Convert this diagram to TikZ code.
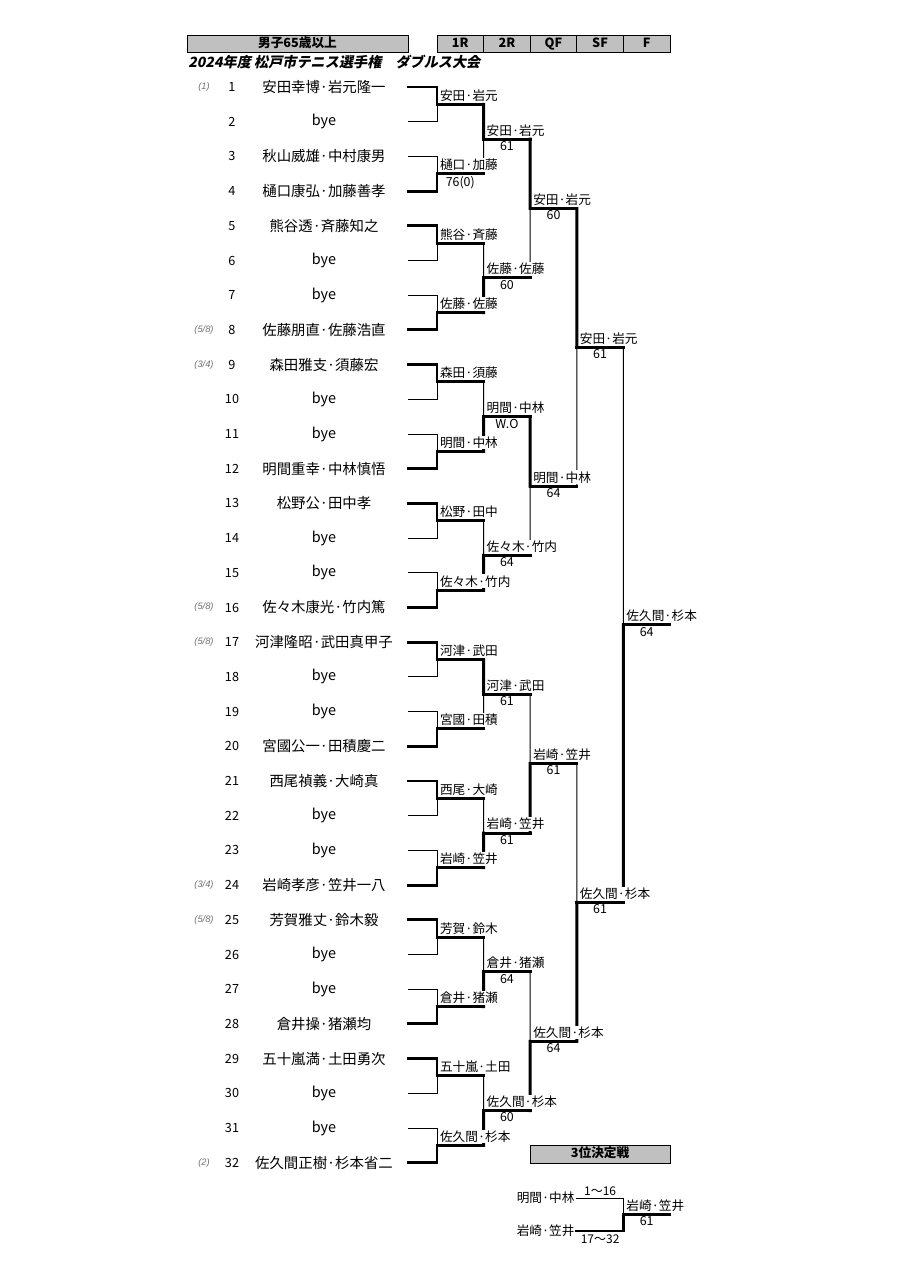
\documentclass[tikz,border=0pt]{standalone}
\usepackage{fontspec}
\setmainfont{Noto Sans CJK JP}
\newfontfamily\titlefont{Noto Sans CJK JP}[FakeSlant=0.2]
\newfontfamily\seedfont{Liberation Sans}
\usetikzlibrary{positioning,calc}

\definecolor{boxgray}{HTML}{C0C0C0}
\definecolor{seedgray}{HTML}{707070}

\pgfdeclarelayer{fg}
\pgfsetlayers{main,fg}

\tikzset{
  won/.style={line width=2.2pt, line cap=rect},
  lost/.style={line width=0.75pt, line cap=rect},
  winlbl/.style={anchor=south west, inner sep=0.8pt, xshift=1.3pt, yshift=1.2pt, fill=white, font=\fontsize{9.5}{10}\selectfont},
  scorelbl/.style={anchor=north, inner sep=1.5pt, font=\fontsize{9.3}{10}\selectfont},
  hdrbox/.style={draw, fill=boxgray, line width=0.6pt, minimum height=12.75pt, inner sep=0pt, outer sep=0pt,
    text height=7pt, text depth=1.5pt, font=\bfseries\fontsize{9.5}{10}\selectfont},
  player/.style={inner sep=0pt, font=\fontsize{10.8}{12}\selectfont},
  num/.style={inner sep=0pt, font=\fontsize{9.5}{10}\selectfont},
  seed/.style={inner sep=0pt, text=seedgray, font=\seedfont\itshape\fontsize{7}{8}\selectfont},
}

% one match: name, top end, bottom end, top style, bottom style, winner, score
\newcommand{\bmatch}[7]{%
  \coordinate (#1) at ($(#2)!0.5!(#3)$);
  \draw[#4] (#2) -- (#1);
  \draw[#5] (#3) -- (#1);
  \draw[won] (#1) -- ++(46.6,0) coordinate (#1e);
  \begin{pgfonlayer}{fg}
    \node[winlbl] (#1l) at (#1) {#6};
    \if\relax\detokenize{#7}\relax\else
      \node[scorelbl] (#1s) at ($(#1)!0.5!(#1e)$) {#7};
    \fi
  \end{pgfonlayer}
}

\begin{document}
\begin{tikzpicture}[x=0.75pt, y=-0.75pt]
  \useasboundingbox (0,0) rectangle (905,1280);

  % header
  \node[hdrbox, minimum width=165.75pt] (cat) at (297.5,43.5) {男子65歳以上};
  \node[hdrbox, minimum width=34.95pt] (h1) at (460.3,43.5) {1R};
  \node[hdrbox, minimum width=34.95pt, right=0pt of h1] (h2) {2R};
  \node[hdrbox, minimum width=34.95pt, right=0pt of h2] (h3) {QF};
  \node[hdrbox, minimum width=34.95pt, right=0pt of h3] (h4) {SF};
  \node[hdrbox, minimum width=34.95pt, right=0pt of h4] (h5) {F};
  \node[anchor=west, inner sep=0pt] (title) at (188,62)
    {\titlefont\bfseries\fontsize{10.6}{12}\selectfont 2024年度 松戸市テニス選手権　ダブルス大会};

  % players
  \foreach \n/\nm/\st in {1/安田幸博·岩元隆一/won, 2/bye/lost, 3/秋山威雄·中村康男/lost, 4/樋口康弘·加藤善孝/won,
      5/熊谷透·斉藤知之/won, 6/bye/lost, 7/bye/lost, 8/佐藤朋直·佐藤浩直/won,
      9/森田雅支·須藤宏/won, 10/bye/lost, 11/bye/lost, 12/明間重幸·中林慎悟/won,
      13/松野公·田中孝/won, 14/bye/lost, 15/bye/lost, 16/佐々木康光·竹内篤/won,
      17/河津隆昭·武田真甲子/won, 18/bye/lost, 19/bye/lost, 20/宮國公一·田積慶二/won,
      21/西尾禎義·大崎真/won, 22/bye/lost, 23/bye/lost, 24/岩崎孝彦·笠井一八/won,
      25/芳賀雅丈·鈴木毅/won, 26/bye/lost, 27/bye/lost, 28/倉井操·猪瀬均/won,
      29/五十嵐満·土田勇次/won, 30/bye/lost, 31/bye/lost, 32/佐久間正樹·杉本省二/won} {
    \coordinate (p\n) at (408,{87+(\n-1)*34.7});
    \node[num] (n\n) at (232,{87+(\n-1)*34.7}) {\n};
    \node[player] (nm\n) at (324,{87+(\n-1)*34.7}) {\nm};
    \draw[\st] (p\n) -- ++(29,0) coordinate (pe\n);
  }
  \foreach \n/\sd in {1/{(1)}, 8/{(5/8)}, 9/{(3/4)}, 16/{(5/8)}, 17/{(5/8)}, 24/{(3/4)}, 25/{(5/8)}, 32/{(2)}}
    \node[seed] (sd\n) at (204,{87+(\n-1)*34.7}) {\sd};

  % 1R
  \bmatch{m1}{pe1}{pe2}{won}{lost}{安田·岩元}{}
  \bmatch{m2}{pe3}{pe4}{lost}{won}{樋口·加藤}{76(0)}
  \bmatch{m3}{pe5}{pe6}{won}{lost}{熊谷·斉藤}{}
  \bmatch{m4}{pe7}{pe8}{lost}{won}{佐藤·佐藤}{}
  \bmatch{m5}{pe9}{pe10}{won}{lost}{森田·須藤}{}
  \bmatch{m6}{pe11}{pe12}{lost}{won}{明間·中林}{}
  \bmatch{m7}{pe13}{pe14}{won}{lost}{松野·田中}{}
  \bmatch{m8}{pe15}{pe16}{lost}{won}{佐々木·竹内}{}
  \bmatch{m9}{pe17}{pe18}{won}{lost}{河津·武田}{}
  \bmatch{m10}{pe19}{pe20}{lost}{won}{宮國·田積}{}
  \bmatch{m11}{pe21}{pe22}{won}{lost}{西尾·大崎}{}
  \bmatch{m12}{pe23}{pe24}{lost}{won}{岩崎·笠井}{}
  \bmatch{m13}{pe25}{pe26}{won}{lost}{芳賀·鈴木}{}
  \bmatch{m14}{pe27}{pe28}{lost}{won}{倉井·猪瀬}{}
  \bmatch{m15}{pe29}{pe30}{won}{lost}{五十嵐·土田}{}
  \bmatch{m16}{pe31}{pe32}{lost}{won}{佐久間·杉本}{}

  % 2R
  \bmatch{r1}{m1e}{m2e}{won}{lost}{安田·岩元}{61}
  \bmatch{r2}{m3e}{m4e}{lost}{won}{佐藤·佐藤}{60}
  \bmatch{r3}{m5e}{m6e}{lost}{won}{明間·中林}{W.O}
  \bmatch{r4}{m7e}{m8e}{lost}{won}{佐々木·竹内}{64}
  \bmatch{r5}{m9e}{m10e}{won}{lost}{河津·武田}{61}
  \bmatch{r6}{m11e}{m12e}{lost}{won}{岩崎·笠井}{61}
  \bmatch{r7}{m13e}{m14e}{lost}{won}{倉井·猪瀬}{64}
  \bmatch{r8}{m15e}{m16e}{lost}{won}{佐久間·杉本}{60}

  % QF, SF, F
  \bmatch{q1}{r1e}{r2e}{won}{lost}{安田·岩元}{60}
  \bmatch{q2}{r3e}{r4e}{won}{lost}{明間·中林}{64}
  \bmatch{q3}{r5e}{r6e}{lost}{won}{岩崎·笠井}{61}
  \bmatch{q4}{r7e}{r8e}{lost}{won}{佐久間·杉本}{64}
  \bmatch{s1}{q1e}{q2e}{won}{lost}{安田·岩元}{61}
  \bmatch{s2}{q3e}{q4e}{lost}{won}{佐久間·杉本}{61}
  \bmatch{f}{s1e}{s2e}{lost}{won}{佐久間·杉本}{64}

  % third place
  \node[hdrbox, minimum width=104.85pt, minimum height=13.5pt] (third) at (600.1,1154) {3位決定戦};
  \coordinate (t1) at (576.8,1198);
  \coordinate (t2) at (576.8,1231);
  \draw[lost] (t1) -- ++(46.6,0) coordinate (t1e) node[midway, above, inner sep=1.5pt, font=\fontsize{9}{10}\selectfont] (t1r) {1〜16};
  \draw[won] (t2) -- ++(46.6,0) coordinate (t2e) node[midway, below, inner sep=1.5pt, font=\fontsize{9}{10}\selectfont] (t2r) {17〜32};
  \node[anchor=east, inner sep=1.5pt, font=\fontsize{9.5}{10}\selectfont] (t1n) at (t1) {明間·中林};
  \node[anchor=east, inner sep=1.5pt, font=\fontsize{9.5}{10}\selectfont] (t2n) at (t2) {岩崎·笠井};
  \bmatch{t}{t1e}{t2e}{lost}{won}{岩崎·笠井}{61}
\end{tikzpicture}
\end{document}
